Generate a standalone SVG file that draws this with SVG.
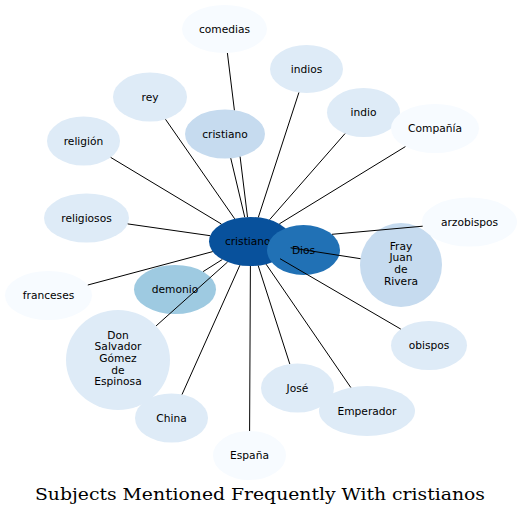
<svg xmlns="http://www.w3.org/2000/svg" width="521" height="516" viewBox="0 0 521 516">
<style>
.n text{font-family:"DejaVu Sans",sans-serif;font-size:10.67px;fill:#000;text-anchor:middle}
.c1{fill:#f7fbff}.c2{fill:#deebf7}.c3{fill:#c6dbef}.c4{fill:#9ecae1}.c7{fill:#2171b5}.c8{fill:#08519c}
#edges line{stroke:#000;stroke-width:1}
.title{font-family:"DejaVu Serif",serif;font-size:16px;fill:#000;text-anchor:middle}
</style>
<rect width="521" height="516" fill="#fff"/>
<g id="n-comedias" class="n"><ellipse class="c1" cx="224.5" cy="29" rx="42.5" ry="24"/><text x="224.5" y="32.7">comedias</text></g>
<g id="n-indios" class="n"><ellipse class="c2" cx="306.5" cy="69" rx="36.5" ry="24"/><text x="306.5" y="72.7">indios</text></g>
<g id="n-rey" class="n"><ellipse class="c2" cx="150" cy="97" rx="37" ry="24.5"/><text x="150" y="100.7">rey</text></g>
<g id="n-cristiano" class="n"><ellipse class="c3" cx="225" cy="134" rx="40" ry="24.5"/><text x="225" y="137.7">cristiano</text></g>
<g id="n-religion" class="n"><ellipse class="c2" cx="83.5" cy="141" rx="36.5" ry="24.5"/><text x="83.5" y="144.7">religión</text></g>
<g id="n-indio" class="n"><ellipse class="c2" cx="363.5" cy="112.5" rx="36.5" ry="24.5"/><text x="363.5" y="116.2">indio</text></g>
<g id="n-compania" class="n"><ellipse class="c1" cx="435" cy="128.5" rx="44" ry="24.5"/><text x="435" y="132.2">Compañía</text></g>
<g id="n-religiosos" class="n"><ellipse class="c2" cx="86.5" cy="218" rx="42.5" ry="24.5"/><text x="86.5" y="221.7">religiosos</text></g>
<g id="n-arzobispos" class="n"><ellipse class="c1" cx="469.5" cy="222" rx="47.5" ry="24.5"/><text x="469.5" y="225.7">arzobispos</text></g>
<g id="n-frayjuan" class="n"><ellipse class="c3" cx="401" cy="265" rx="41" ry="42"/><text x="401" y="249.5">Fray</text><text x="401" y="261.4">Juan</text><text x="401" y="273.2">de</text><text x="401" y="285.1">Rivera</text></g>
<g id="n-cristianos" class="n"><ellipse class="c8" cx="250.5" cy="241.5" rx="41.5" ry="24.5"/><text x="250.5" y="245.2">cristianos</text></g>
<g id="n-dios" class="n"><ellipse class="c7" cx="303.5" cy="250" rx="36.5" ry="25"/><text x="303.5" y="253.7">Dios</text></g>
<g id="n-franceses" class="n"><ellipse class="c1" cx="48.5" cy="295.5" rx="43.5" ry="24.5"/><text x="48.5" y="299.2">franceses</text></g>
<g id="n-demonio" class="n"><ellipse class="c4" cx="175" cy="289.5" rx="41" ry="24.5"/><text x="175" y="293.2">demonio</text></g>
<g id="n-donsalvador" class="n"><ellipse class="c2" cx="118" cy="360" rx="52" ry="50"/><text x="118" y="338.5">Don</text><text x="118" y="350.2">Salvador</text><text x="118" y="361.8">Gómez</text><text x="118" y="373.5">de</text><text x="118" y="385.1">Espinosa</text></g>
<g id="n-obispos" class="n"><ellipse class="c2" cx="429" cy="345.5" rx="38" ry="24.5"/><text x="429" y="349.2">obispos</text></g>
<g id="n-jose" class="n"><ellipse class="c2" cx="297.5" cy="388" rx="36.5" ry="24.5"/><text x="297.5" y="391.7">José</text></g>
<g id="n-emperador" class="n"><ellipse class="c2" cx="367" cy="411" rx="48" ry="25"/><text x="367" y="414.7">Emperador</text></g>
<g id="n-china" class="n"><ellipse class="c2" cx="171.5" cy="418" rx="36.5" ry="24.5"/><text x="171.5" y="421.7">China</text></g>
<g id="n-espana" class="n"><ellipse class="c1" cx="249.5" cy="455.5" rx="36.5" ry="24.5"/><text x="249.5" y="459.2">España</text></g>
<g id="edges">
<line x1="227.4" y1="53" x2="234.4" y2="110.2"/>
<line x1="240.1" y1="156.7" x2="247.5" y2="217.1"/>
<line x1="244.75" y1="217.2" x2="230.75" y2="158.2"/>
<line x1="258.3" y1="217.4" x2="298.9" y2="92.5"/>
<line x1="234.7" y1="218.8" x2="165.5" y2="119.3"/>
<line x1="221.4" y1="224" x2="110.7" y2="157.4"/>
<line x1="210.2" y1="235.7" x2="127.7" y2="223.9"/>
<line x1="269.6" y1="219.7" x2="345" y2="133.6"/>
<line x1="279.3" y1="223.9" x2="405.4" y2="146.6"/>
<line x1="332" y1="234.3" x2="422.7" y2="226.2"/>
<line x1="290.6" y1="247.8" x2="360.5" y2="258.7"/>
<line x1="280" y1="258.7" x2="400.8" y2="329.1"/>
<line x1="266.1" y1="264.2" x2="350.8" y2="387.5"/>
<line x1="258.2" y1="265.6" x2="289.8" y2="364"/>
<line x1="250.4" y1="266" x2="249.6" y2="431"/>
<line x1="239.9" y1="265.2" x2="182" y2="394.5"/>
<line x1="227.6" y1="262" x2="156.1" y2="325.9"/>
<line x1="222.3" y1="259.5" x2="203.1" y2="271.6"/>
<line x1="212.7" y1="251.6" x2="87.8" y2="285"/>
</g>
<text class="title" x="260" y="500" textLength="450" lengthAdjust="spacingAndGlyphs">Subjects Mentioned Frequently With cristianos</text>
</svg>
